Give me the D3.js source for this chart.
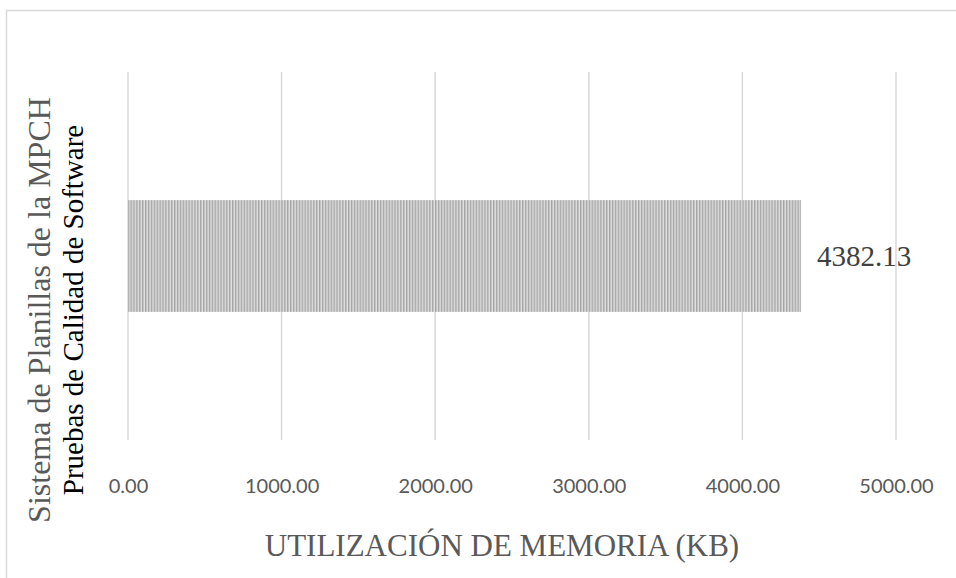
<!DOCTYPE html>
<html>
<head>
<meta charset="utf-8">
<script src="https://cdn.jsdelivr.net/npm/d3@7"></script>
<style>
  body { margin: 0; background: #fff; }
</style>
</head>
<body>
<div id="chart"></div>
<script>
// Memory usage chart data
const categories = ['Pruebas de Calidad de Software'];
const memoryValues = [4382.13];
const xTicks = [0, 1000, 2000, 3000, 4000, 5000];
const xTitle = 'UTILIZACIÓN DE MEMORIA (KB)';
const yTitle = 'Sistema de Planillas de la MPCH';

const width = 956;
const height = 578;
const margin = { top: 72, right: 60, bottom: 138, left: 128 };

const svg = d3.select('#chart').append('svg')
    .attr('width', width)
    .attr('height', height);

// Outer chart frame (runs off the right and bottom)
svg.append('rect')
    .attr('x', 6.5)
    .attr('y', 10.5)
    .attr('width', width)
    .attr('height', height)
    .attr('fill', 'none')
    .attr('stroke', '#d9d9d9')
    .attr('stroke-width', 1.5);

// Stripe pattern for the bar
const defs = svg.append('defs');
const pat = defs.append('pattern')
    .attr('id', 'stripes')
    .attr('patternUnits', 'userSpaceOnUse')
    .attr('width', 2.9)
    .attr('height', 10);
pat.append('rect').attr('width', 2.9).attr('height', 10).attr('fill', '#e0e0e0');
pat.append('rect').attr('width', 1.4).attr('height', 10).attr('fill', '#a3a3a3');

const x = d3.scaleLinear()
    .domain([0, 5000])
    .range([margin.left, width - margin.right]);

const y = d3.scaleBand()
    .domain(categories)
    .range([margin.top, height - margin.bottom])
    .padding(0.534);

// Gridlines
svg.append('g')
    .selectAll('line')
    .data(xTicks)
    .enter().append('line')
    .attr('x1', d => x(d))
    .attr('x2', d => x(d))
    .attr('y1', margin.top)
    .attr('y2', height - margin.bottom)
    .attr('stroke', '#d9d9d9')
    .attr('stroke-width', 1.5);

// Bar
svg.append('g')
    .selectAll('rect')
    .data(memoryValues)
    .enter().append('rect')
    .attr('x', x(0))
    .attr('y', (d, i) => y(categories[i]))
    .attr('width', d => x(d) - x(0))
    .attr('height', y.bandwidth())
    .attr('fill', 'url(#stripes)');

// Value label
svg.append('g')
    .selectAll('text')
    .data(memoryValues)
    .enter().append('text')
    .attr('x', d => x(d) + 16)
    .attr('y', (d, i) => y(categories[i]) + y.bandwidth() / 2)
    .attr('dy', '0.35em')
    .style('font-family', '"Liberation Serif", "Times New Roman", serif')
    .style('font-size', '29px')
    .style('fill', '#404040')
    .text(d => d.toFixed(2));

// X axis tick labels
const xAxis = d3.axisBottom(x)
    .tickValues(xTicks)
    .tickSize(0)
    .tickPadding(0)
    .tickFormat(d => d.toFixed(2));

const gx = svg.append('g')
    .attr('transform', `translate(0, ${height - margin.bottom + 46})`)
    .call(xAxis);
gx.select('.domain').remove();
gx.selectAll('text')
    .attr('dy', '0.35em')
    .style('font-family', 'Lato, "Open Sans", sans-serif')
    .style('font-size', '20px')
    .style('fill', '#595959');

// X axis title
svg.append('text')
    .attr('x', 502)
    .attr('y', 556)
    .attr('text-anchor', 'middle')
    .style('font-family', '"Liberation Serif", "Times New Roman", serif')
    .style('font-size', '31px')
    .style('fill', '#595959')
    .text(xTitle);

// Y axis title and category label, rotated
svg.append('text')
    .attr('transform', 'translate(50, 310) rotate(-90)')
    .attr('text-anchor', 'middle')
    .style('font-family', '"Liberation Serif", "Times New Roman", serif')
    .style('font-size', '32px')
    .style('fill', '#595959')
    .text(yTitle);

svg.append('g')
    .selectAll('text')
    .data(categories)
    .enter().append('text')
    .attr('transform', 'translate(83, 310) rotate(-90)')
    .attr('text-anchor', 'middle')
    .style('font-family', '"Liberation Serif", "Times New Roman", serif')
    .style('font-size', '29px')
    .style('fill', '#000')
    .text(d => d);
</script>
</body>
</html>
